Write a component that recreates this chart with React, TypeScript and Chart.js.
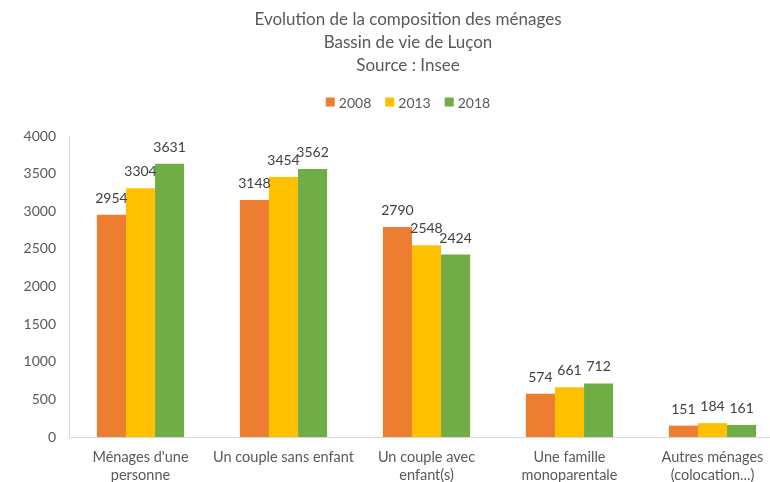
import React, { useEffect, useRef } from "react";
import { Chart, registerables } from "chart.js";

Chart.register(...registerables);

const titleLines = ["Evolution de la composition des ménages", "Bassin de vie de Luçon", "Source : Insee"];
const categories = [
  ["Ménages d'une", "personne"],
  ["Un couple sans enfant"],
  ["Un couple avec", "enfant(s)"],
  ["Une famille", "monoparentale"],
  ["Autres ménages", "(colocation...)"],
];
const seriesNames = ["2008", "2013", "2018"];
const values2008 = [2954, 3148, 2790, 574, 151];
const values2013 = [3304, 3454, 2548, 661, 184];
const values2018 = [3631, 3562, 2424, 712, 161];
const seriesColors = ["#ED7D31", "#FFC000", "#70AD47"];
const yMin = 0;
const yMax = 4000;
const yStep = 500;

const FONT = "Lato, 'Open Sans', sans-serif";

const overlayPlugin = {
  id: "overlay",
  afterDraw(chart: any) {
    const ctx = chart.ctx;
    const W = chart.width;
    ctx.save();
    // title
    ctx.fillStyle = "#595959";
    ctx.font = `17px ${FONT}`;
    ctx.textAlign = "center";
    ctx.textBaseline = "middle";
    titleLines.forEach((t, i) => ctx.fillText(t, W / 2, 20 + i * 23));
    // legend
    ctx.font = `14px ${FONT}`;
    const box = 9;
    const gapBoxText = 4;
    const gapItems = 14;
    const widths = seriesNames.map((n) => box + gapBoxText + ctx.measureText(n).width);
    const total = widths.reduce((a, b) => a + b, 0) + gapItems * (widths.length - 1);
    let x = W / 2 - total / 2;
    const ly = 102;
    ctx.textAlign = "left";
    seriesNames.forEach((n, i) => {
      ctx.fillStyle = seriesColors[i];
      ctx.fillRect(x, ly - box / 2, box, box);
      ctx.fillStyle = "#595959";
      ctx.fillText(n, x + box + gapBoxText, ly + 1);
      x += widths[i] + gapItems;
    });
    // data labels
    ctx.font = `14px ${FONT}`;
    ctx.fillStyle = "#404040";
    ctx.textAlign = "center";
    ctx.textBaseline = "alphabetic";
    chart.data.datasets.forEach((ds: any, di: number) => {
      const meta = chart.getDatasetMeta(di);
      meta.data.forEach((el: any, i: number) => {
        ctx.fillText(String(ds.data[i]), el.x, el.y - 12);
      });
    });
    ctx.restore();
  },
};

export default function App() {
  const ref = useRef<HTMLCanvasElement>(null);
  useEffect(() => {
    if (!ref.current) return;
    const chart = new Chart(ref.current, {
      type: "bar",
      data: {
        labels: categories,
        datasets: [values2008, values2013, values2018].map((d, i) => ({
          label: seriesNames[i],
          data: d,
          backgroundColor: seriesColors[i],
          borderWidth: 0,
          categoryPercentage: 0.61,
          barPercentage: 1,
        })),
      },
      options: {
        responsive: false,
        animation: false,
        devicePixelRatio: 1,
        layout: { padding: { top: 136, right: 32, left: 0, bottom: 0 } },
        plugins: {
          legend: { display: false },
          title: { display: false },
          tooltip: { enabled: false },
        },
        scales: {
          x: {
            grid: { display: false, drawTicks: false },
            border: { display: true, color: "#D9D9D9", width: 1 },
            ticks: {
              color: "#595959",
              font: { family: FONT, size: 14.5, lineHeight: 1.2 },
              padding: 12,
              maxRotation: 0,
              autoSkip: false,
            },
            afterFit(scale: any) {
              scale.height = 45;
            },
          },
          y: {
            min: yMin,
            max: yMax,
            grid: { display: false, drawTicks: false },
            border: { display: true, color: "#D9D9D9", width: 1 },
            ticks: {
              stepSize: yStep,
              color: "#595959",
              font: { family: FONT, size: 14 },
              padding: 13,
              callback: (v: any) => String(v),
            },
            afterFit(scale: any) {
              scale.width = 69;
            },
          },
        },
      },
      plugins: [overlayPlugin],
    } as any);
    return () => chart.destroy();
  }, []);
  return (
    <div style={{ position: "fixed", left: 0, top: 0, width: 770, height: 482, overflow: "hidden", background: "#fff" }}>
      <canvas ref={ref} width={816} height={482} style={{ display: "block" }} />
    </div>
  );
}
